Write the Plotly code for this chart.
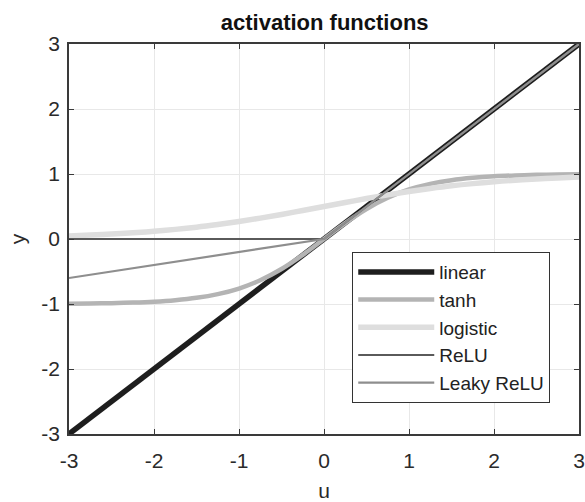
import plotly.graph_objects as go

u = [-3.0, -2.75, -2.5, -2.25, -2.0, -1.75, -1.5, -1.25, -1.0, -0.75, -0.5, -0.25,
     0.0, 0.25, 0.5, 0.75, 1.0, 1.25, 1.5, 1.75, 2.0, 2.25, 2.5, 2.75, 3.0]

linear = [-3.0, -2.75, -2.5, -2.25, -2.0, -1.75, -1.5, -1.25, -1.0, -0.75, -0.5, -0.25,
          0.0, 0.25, 0.5, 0.75, 1.0, 1.25, 1.5, 1.75, 2.0, 2.25, 2.5, 2.75, 3.0]
tanh_v = [-0.995, -0.992, -0.987, -0.978, -0.964, -0.941, -0.905, -0.848, -0.762, -0.635, -0.462, -0.245,
          0.0, 0.245, 0.462, 0.635, 0.762, 0.848, 0.905, 0.941, 0.964, 0.978, 0.987, 0.992, 0.995]
logistic = [0.047, 0.060, 0.076, 0.095, 0.119, 0.148, 0.182, 0.223, 0.269, 0.321, 0.378, 0.438,
            0.500, 0.562, 0.622, 0.679, 0.731, 0.777, 0.818, 0.852, 0.881, 0.905, 0.924, 0.940, 0.953]
relu = [0.0, 0.0, 0.0, 0.0, 0.0, 0.0, 0.0, 0.0, 0.0, 0.0, 0.0, 0.0,
        0.0, 0.25, 0.5, 0.75, 1.0, 1.25, 1.5, 1.75, 2.0, 2.25, 2.5, 2.75, 3.0]
leaky = [-0.6, -0.55, -0.5, -0.45, -0.4, -0.35, -0.3, -0.25, -0.2, -0.15, -0.1, -0.05,
         0.0, 0.25, 0.5, 0.75, 1.0, 1.25, 1.5, 1.75, 2.0, 2.25, 2.5, 2.75, 3.0]

tick_vals = [-3, -2, -1, 0, 1, 2, 3]
tick_text = ["-3", "-2", "-1", "0", "1", "2", "3"]

names = ["linear", "tanh", "logistic", "ReLU", "Leaky ReLU"]
series = [linear, tanh_v, logistic, relu, leaky]
colors = ["#1e1e1e", "#b4b4b4", "#dedede", "#5a5a5a", "#8e8e8e"]
widths = [5.5, 4.5, 5.5, 2.2, 2.2]
shapes = ["linear", "spline", "spline", "linear", "linear"]

fig = go.Figure()
for n, ys, c, w, s in zip(names, series, colors, widths, shapes):
    fig.add_trace(go.Scatter(x=u, y=ys, mode="lines", name=n, legendgroup=n,
                             line=dict(color=c, width=w, shape=s)))

font_family = "Liberation Sans, Arial, sans-serif"
axis_common = dict(
    range=[-3, 3], tickvals=tick_vals, ticktext=tick_text, automargin=False,
    showgrid=True, gridcolor="#e8e8e8", gridwidth=1,
    zeroline=False, showline=True, linecolor="#3a3a3a", linewidth=1.5,
    mirror="ticks", ticks="inside", ticklen=5, tickcolor="#3a3a3a",
    tickfont=dict(size=21, color="#2a2a2a", family=font_family),
)

fig.update_layout(
    width=585, height=502,
    margin=dict(l=69, r=6, t=44, b=68),
    paper_bgcolor="white", plot_bgcolor="white",
    title=dict(text="<b>activation functions</b>", x=0.555, xanchor="center",
               y=0.955, yanchor="middle", automargin=False,
               font=dict(size=22, color="#111111", family=font_family)),
    xaxis=dict(**axis_common, ticklabelstandoff=7,
               title=dict(text="u", standoff=15,
                          font=dict(size=21, color="#2a2a2a", family=font_family))),
    yaxis=dict(**axis_common, ticklabelstandoff=3,
               title=dict(text="y", standoff=10,
                          font=dict(size=21, color="#2a2a2a", family=font_family))),
    legend=dict(x=0.555, y=0.467, xanchor="left", yanchor="top",
                bgcolor="white", bordercolor="#333333", borderwidth=1.2,
                font=dict(size=19, color="#222222", family=font_family),
                itemwidth=76, traceorder="grouped", tracegroupgap=0),
    showlegend=True,
)

fig.write_html("out.html", config={"displayModeBar": False},
               post_script="document.body.style.margin='0';")
